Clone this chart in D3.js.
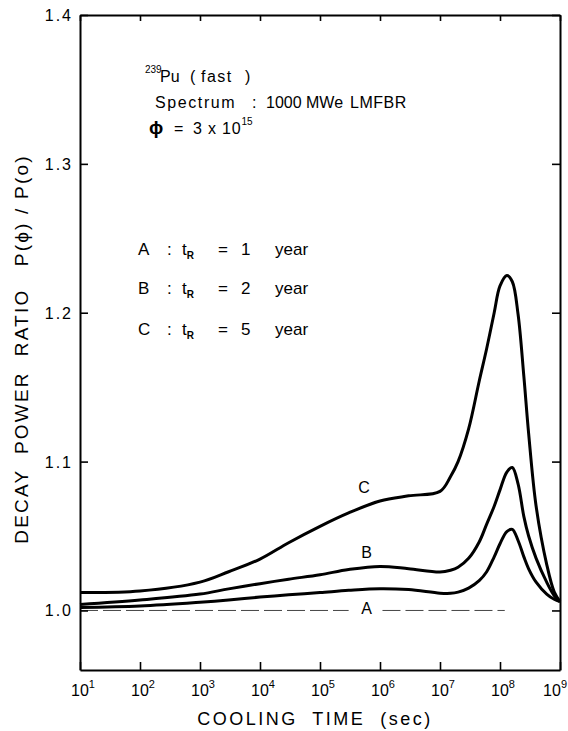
<!DOCTYPE html>
<html>
<head>
<meta charset="utf-8">
<script src="https://cdn.jsdelivr.net/npm/d3@7/dist/d3.min.js"></script>
<style>
  html, body { margin: 0; padding: 0; background: #fff; }
  svg { display: block; }
  text { font-family: "Liberation Sans", Arial, sans-serif; fill: #000; white-space: pre; }
</style>
</head>
<body>
<div id="chart"></div>
<script>
// ---- data ----
const timeSec = [1e1, 1e2, 1e3, 3e3, 1e4, 3e4, 1e5, 3e5, 1e6, 3e6, 1e7, 1.5e7, 2e7, 3e7, 4.5e7, 6e7, 8e7, 1e8, 1.3e8, 1.6e8, 2e8, 2.5e8, 3e8, 4e8, 6e8, 8e8, 1e9];
const ratioA = [1.002, 1.003, 1.0055, 1.007, 1.009, 1.0105, 1.012, 1.0135, 1.0146, 1.014, 1.0116, 1.0115, 1.0123, 1.015, 1.020, 1.026, 1.036, 1.0448, 1.053, 1.0545, 1.047, 1.036, 1.028, 1.019, 1.011, 1.0075, 1.006];
const ratioB = [1.004, 1.007, 1.011, 1.0145, 1.018, 1.021, 1.024, 1.0275, 1.0296, 1.028, 1.0258, 1.027, 1.029, 1.035, 1.046, 1.058, 1.070, 1.081, 1.093, 1.096, 1.085, 1.063, 1.050, 1.035, 1.019, 1.010, 1.006];
const ratioC = [1.012, 1.013, 1.019, 1.026, 1.0345, 1.0455, 1.0565, 1.0655, 1.0735, 1.077, 1.080, 1.090, 1.100, 1.122, 1.154, 1.176, 1.200, 1.218, 1.225, 1.221, 1.199, 1.157, 1.119, 1.070, 1.031, 1.0125, 1.006];
const seriesNames = ["A", "B", "C"];
const seriesLabelAt = [[6e5, 0.9976], [6e5, 1.035], [5.4e5, 1.079]];
const xTickExps = [1, 2, 3, 4, 5, 6, 7, 8, 9];
const yTicks = [1.0, 1.1, 1.2, 1.3, 1.4];
const yTickLabels = ["1.0", "1.1", "1.2", "1.3", "1.4"];
const refSegments = [[1e1, 3e5], [1.1e6, 1.2e8]];
const refValue = 1.0;
const legendLetters = ["A", "B", "C"];
const legendYears = ["1", "2", "5"];

// ---- layout ----
const W = 568, H = 731;
const svg = d3.select("#chart").append("svg").attr("width", W).attr("height", H);

const x = d3.scaleLog().domain([1e1, 1e9]).range([80, 560]);
const y = d3.scaleLinear().domain([0.96, 1.4]).range([670, 15]);

// reference line at 1.0 (thin, broken)
refSegments.forEach(seg => {
  svg.append("line")
    .attr("x1", x(seg[0])).attr("x2", x(seg[1]))
    .attr("y1", y(refValue)).attr("y2", y(refValue))
    .attr("stroke", "#444").attr("stroke-width", 1)
    .attr("stroke-dasharray", "18,5");
});

// axes (ticks inward)
const axB = d3.axisBottom(x).tickValues(xTickExps.map(e => Math.pow(10, e))).tickSizeInner(-8).tickSizeOuter(0).tickFormat("");
const axT = d3.axisTop(x).tickValues(xTickExps.map(e => Math.pow(10, e))).tickSizeInner(-6).tickSizeOuter(0).tickFormat("");
const axL = d3.axisLeft(y).tickValues(yTicks).tickSizeInner(-8).tickSizeOuter(0).tickFormat("");
const axR = d3.axisRight(y).tickValues(yTicks).tickSizeInner(-8).tickSizeOuter(0).tickFormat("");

function styleAxis(g) {
  g.select(".domain").attr("stroke", "#000").attr("stroke-width", 2);
  g.selectAll(".tick line").attr("stroke", "#000").attr("stroke-width", 1.6);
}
svg.append("g").attr("transform", `translate(0,${y(0.96)})`).call(axB).call(styleAxis);
svg.append("g").attr("transform", `translate(0,${y(1.4)})`).call(axT).call(styleAxis);
svg.append("g").attr("transform", `translate(${x(1e1)},0)`).call(axL).call(styleAxis);
svg.append("g").attr("transform", `translate(${x(1e9)},0)`).call(axR).call(styleAxis);

// x tick labels 10^n
xTickExps.forEach(e => {
  const px = x(Math.pow(10, e));
  const last = e === xTickExps[xTickExps.length - 1];
  const t = svg.append("text")
    .attr("x", last ? W - 1 : px - 9).attr("y", 696)
    .attr("text-anchor", last ? "end" : "start")
    .style("font-size", "16px");
  t.append("tspan").text("10");
  t.append("tspan").attr("dy", -8).style("font-size", "11px").text(String(e));
});

// y tick labels
yTicks.forEach((v, i) => {
  svg.append("text")
    .attr("x", 73).attr("y", y(v) + 6)
    .attr("text-anchor", "end")
    .style("font-size", "16px").style("letter-spacing", "2px")
    .text(yTickLabels[i]);
});

// axis titles
svg.append("text")
  .attr("x", 315).attr("y", 725)
  .attr("text-anchor", "middle")
  .style("font-size", "18px").style("letter-spacing", "2.5px")
  .text("COOLING  TIME  (sec)");

svg.append("text")
  .attr("transform", `translate(28,349) rotate(-90)`)
  .attr("text-anchor", "middle")
  .style("font-size", "19px").style("letter-spacing", "2.2px")
  .text("DECAY  POWER  RATIO   P(ϕ) / P(o)");

// curves
const line = d3.line()
  .x(d => x(d[0])).y(d => y(d[1]))
  .curve(d3.curveCatmullRom.alpha(0.5));
[ratioA, ratioB, ratioC].forEach(vals => {
  svg.append("path")
    .datum(timeSec.map((t, i) => [t, vals[i]]))
    .attr("d", line)
    .attr("fill", "none")
    .attr("stroke", "#000")
    .attr("stroke-width", 3)
    .attr("stroke-linejoin", "round");
});

// curve labels
seriesNames.forEach((n, i) => {
  svg.append("text")
    .attr("x", x(seriesLabelAt[i][0])).attr("y", y(seriesLabelAt[i][1]))
    .attr("text-anchor", "middle")
    .style("font-size", "16px")
    .text(n);
});

// annotations
const a1 = svg.append("text").attr("y", 82).style("font-size", "16px");
a1.append("tspan").attr("x", 145).attr("dy", -9).style("font-size", "10px").text("239");
a1.append("tspan").attr("x", 160).attr("dy", 9).text("Pu");
a1.append("tspan").attr("x", 190).text("(");
a1.append("tspan").attr("x", 201).style("letter-spacing", "1.5px").text("fast");
a1.append("tspan").attr("x", 245).text(")");

const a2 = svg.append("text").attr("y", 108).style("font-size", "16px");
a2.append("tspan").attr("x", 155).style("letter-spacing", "1.6px").text("Spectrum");
a2.append("tspan").attr("x", 252).text(":");
a2.append("tspan").attr("x", 266).text("1000 MWe");
a2.append("tspan").attr("x", 350).text("LMFBR").style("letter-spacing", "0.5px");

const a3 = svg.append("text").attr("y", 134).style("font-size", "16px");
a3.append("tspan").attr("x", 149).style("font-size", "19px").style("font-weight", "bold").text("ϕ");
a3.append("tspan").attr("x", 174).text("=");
a3.append("tspan").attr("x", 193).style("letter-spacing", "0.8px").text("3 x 10");
a3.append("tspan").attr("dy", -9).style("font-size", "10px").text("15");

const legY = [255, 294, 335];
legendLetters.forEach((L, i) => {
  const t = svg.append("text").attr("y", legY[i]).style("font-size", "17px");
  t.append("tspan").attr("x", 138).text(L);
  t.append("tspan").attr("x", 167).text(":");
  t.append("tspan").attr("x", 182).text("t");
  t.append("tspan").attr("dy", 4).style("font-size", "10px").style("font-weight", "bold").text("R");
  t.append("tspan").attr("x", 218).attr("dy", -4).text("=");
  t.append("tspan").attr("x", 241).text(legendYears[i]);
  t.append("tspan").attr("x", 275).text("year");
});
</script>
</body>
</html>
